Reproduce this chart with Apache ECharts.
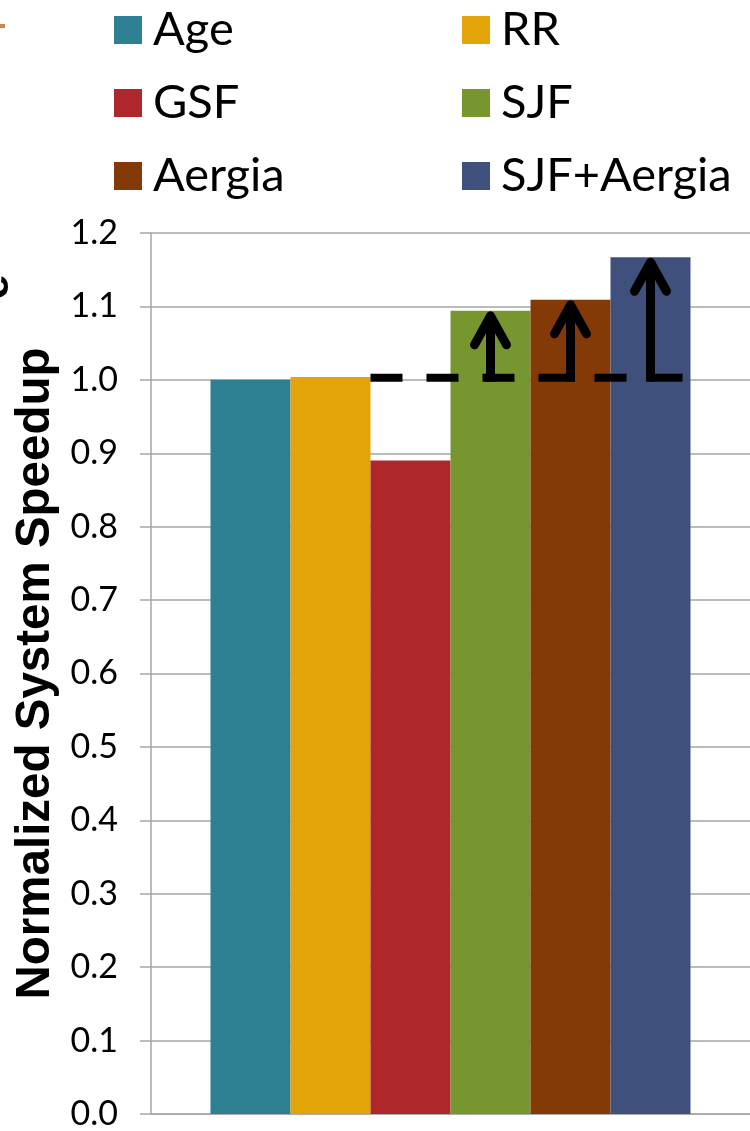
<!DOCTYPE html>
<html>
<head>
<meta charset="utf-8">
<script src="https://cdn.jsdelivr.net/npm/echarts@6/dist/echarts.min.js"></script>
<style>
  html, body { margin: 0; padding: 0; background: #fff; }
  #chart { width: 750px; height: 1131px; }
</style>
</head>
<body>
<div id="chart"></div>
<script>
// Scheduling policies and their system speedup, normalized to Age
const policies = ['Age', 'RR', 'GSF', 'SJF', 'Aergia', 'SJF+Aergia'];
const speedup = [1.000, 1.004, 0.890, 1.094, 1.109, 1.167];
const colors = ['#2f7f93', '#e3a40a', '#ad272b', '#78962f', '#833a07', '#3e507b'];
const yTicks = { min: 0, max: 1.2, step: 0.1 };
const baseline = 1.0;                 // reference level for the dashed line
const gainPolicies = ['SJF', 'Aergia', 'SJF+Aergia']; // arrows above the baseline
const legendCols = [['Age', 'GSF', 'Aergia'], ['RR', 'SJF', 'SJF+Aergia']];

const BAR_W = 80;
const chart = echarts.init(document.getElementById('chart'));

const barSeries = policies.map((name, i) => ({
  name: name,
  type: 'bar',
  barWidth: BAR_W,
  barGap: '0%',
  itemStyle: { color: colors[i] },
  data: [speedup[i]],
  silent: true,
  animation: false
}));

// centre of a policy's bar inside the single category
function barCenterX(api, idx) {
  const cx = api.coord([0, 0])[0];
  return cx + (idx - (policies.length - 1) / 2) * BAR_W;
}

// dashed baseline from the first bar below it to the last bar
const lineSeries = {
  type: 'custom',
  silent: true,
  animation: false,
  z: 5,
  data: [[0, baseline]],
  renderItem: function (params, api) {
    const y = api.coord([0, baseline])[1] - 2;
    const x0 = barCenterX(api, policies.indexOf('GSF')) - BAR_W / 2;
    const x1 = barCenterX(api, policies.length - 1) + BAR_W / 2;
    return {
      type: 'line',
      shape: { x1: x0, y1: y, x2: x1, y2: y },
      style: { stroke: '#000', lineWidth: 8, lineDash: [32, 24], lineCap: 'butt' }
    };
  }
};

// upward arrows from the baseline to each improved policy
const arrowSeries = {
  type: 'custom',
  silent: true,
  animation: false,
  z: 6,
  data: gainPolicies.map(p => [policies.indexOf(p), speedup[policies.indexOf(p)]]),
  renderItem: function (params, api) {
    const idx = api.value(0);
    const x = barCenterX(api, idx);
    const yb = api.coord([0, baseline])[1] + 2;
    const yt = api.coord([0, api.value(1)])[1] + 5;
    return {
      type: 'group',
      children: [
        {
          type: 'line',
          shape: { x1: x, y1: yb, x2: x, y2: yt + 3 },
          style: { stroke: '#000', lineWidth: 9, lineCap: 'butt' }
        },
        {
          type: 'polyline',
          shape: { points: [[x - 16, yt + 29], [x, yt], [x + 16, yt + 29]] },
          style: { stroke: '#000', lineWidth: 9, lineCap: 'round', lineJoin: 'round', fill: null }
        }
      ]
    };
  }
};

function legendCol(left, names) {
  return {
    orient: 'vertical',
    left: left,
    top: 1,
    itemWidth: 28,
    itemHeight: 28,
    itemGap: 25,
    icon: 'rect',
    selectedMode: false,
    data: names,
    textStyle: {
      fontFamily: 'Lato',
      fontSize: 47,
      lineHeight: 48,
      color: '#000',
      padding: [0, 0, 0, 6]
    }
  };
}

const option = {
  animation: false,
  backgroundColor: '#fff',
  legend: [legendCol(109, legendCols[0]), legendCol(457, legendCols[1])],
  grid: { left: 151, top: 233, width: 604, height: 884, containLabel: false },
  xAxis: {
    type: 'category',
    data: [''],
    axisLine: { show: true, lineStyle: { color: '#a6a6a6', width: 1.5 } },
    axisTick: { show: false },
    axisLabel: { show: false },
    splitLine: { show: false }
  },
  yAxis: {
    type: 'value',
    min: yTicks.min,
    max: yTicks.max,
    interval: yTicks.step,
    name: 'Normalized System Speedup',
    nameLocation: 'middle',
    nameGap: 86,
    nameTextStyle: {
      fontFamily: 'Liberation Sans',
      fontWeight: 'bold',
      fontSize: 47.5,
      color: '#000'
    },
    axisLine: { show: true, lineStyle: { color: '#a6a6a6', width: 1.5 } },
    axisTick: { show: true, length: 11, lineStyle: { color: '#a6a6a6', width: 1.5 } },
    splitLine: { show: true, lineStyle: { color: '#a6a6a6', width: 1.5 } },
    axisLabel: {
      margin: 33,
      fontFamily: 'Lato',
      fontSize: 34,
      color: '#000',
      formatter: v => v.toFixed(1)
    }
  },
  graphic: [
    // fragments of the neighbouring slide content at the left edge
    { type: 'rect', left: 0, top: 24, shape: { width: 5, height: 4 }, style: { fill: '#c98852' } },
    {
      type: 'text',
      x: 18, y: 287,
      rotation: Math.PI / 2,
      style: {
        text: 'e',
        font: 'bold 45px "Liberation Sans"',
        fill: '#000',
        align: 'center',
        verticalAlign: 'bottom'
      }
    }
  ],
  series: barSeries.concat([lineSeries, arrowSeries])
};

chart.setOption(option);
</script>
</body>
</html>
